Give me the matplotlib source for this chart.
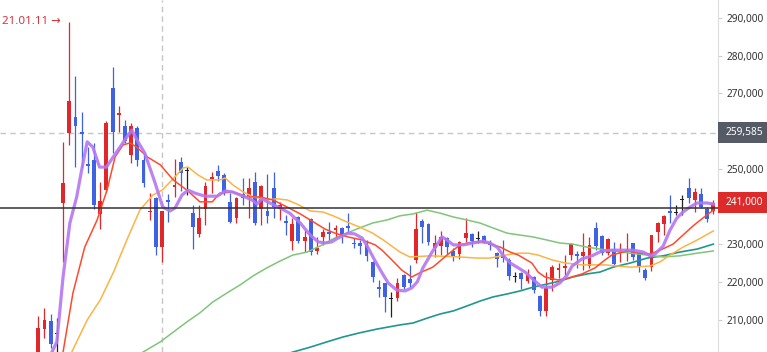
import matplotlib.pyplot as plt
import numpy as np
from matplotlib.patches import Rectangle
from matplotlib.transforms import blended_transform_factory

# daily candles (price in KRW), oldest first
opens = [200500, 207600, 209700, 206300, 241000, 259500, 263800, 259800, 251300, 252400,
         238100, 244400, 271500, 264300, 261400, 253700, 260900, 252400, 238600, 242300,
         229300, 241800, 245200, 251900, 249700, 238300, 232800, 239400, 247400, 249500,
         248400, 241300, 237000, 243400, 242800, 246600, 239400, 238900, 245000, 239400,
         236200, 230900, 237300, 230900, 236700, 228300, 232000, 233300, 233800, 234400,
         234900, 230400, 230400, 229900, 225400, 218700, 219800, 215800, 215800, 221900,
         220900, 225900, 236200, 235400, 229100, 229600, 231700, 228300, 227500, 231700,
         232800, 231700, 232300, 230400, 227700, 227000, 225900, 221600, 222400, 220300,
         221400, 216400, 212400, 220600, 223200, 223800, 227200, 227500, 227000, 224300,
         234400, 232300, 227700, 228800, 227700, 228000, 230400, 227700, 223200, 224000,
         233300, 235400, 238900, 238600, 241800, 245000, 241800, 243400, 239400, 238900]
highs = [211100, 213200, 211600, 210500, 257200, 288900, 274600, 265100, 255800, 256900,
         246600, 262700, 277000, 266700, 263000, 262200, 261400, 254200, 243600, 242600,
         238900, 243400, 252600, 253200, 250500, 240500, 240500, 246600, 249200, 251100,
         248900, 243600, 242600, 247600, 247600, 249200, 245800, 248700, 249200, 241300,
         237800, 237000, 237600, 233800, 237000, 232000, 234100, 236000, 235200, 234600,
         238300, 231700, 231200, 231200, 225600, 220600, 219800, 217400, 221100, 222200,
         224600, 238600, 236700, 235700, 232500, 233600, 232000, 229100, 230900, 237000,
         233000, 233600, 232500, 231200, 228000, 231200, 226400, 222700, 222700, 223500,
         221600, 216600, 222700, 224600, 225100, 227200, 230400, 228300, 233000, 232000,
         236000, 232500, 231700, 230700, 230400, 233000, 230400, 227700, 223800, 232500,
         236000, 237800, 243100, 240500, 243100, 247600, 245000, 245000, 239900, 241800]
lows = [198900, 205200, 202600, 200800, 225400, 256400, 250500, 250300, 248900, 239400,
        234100, 243900, 254200, 259800, 256900, 251600, 250800, 245200, 236500, 227200,
        225400, 236000, 242600, 244200, 243100, 228800, 232000, 235200, 243600, 246800,
        243100, 235700, 235700, 240500, 237000, 235200, 235200, 235700, 237000, 236500,
        232500, 228500, 230400, 228000, 227200, 227500, 229900, 230700, 232000, 230400,
        233300, 229100, 227500, 225600, 220100, 216100, 212100, 210800, 215000, 218200,
        218700, 225100, 230400, 229900, 226700, 227200, 227500, 225600, 226200, 230700,
        229300, 230400, 230400, 228500, 224000, 225400, 220600, 220100, 218200, 219800,
        217100, 211100, 211100, 217700, 221100, 221900, 225900, 223800, 223200, 223800,
        228500, 227200, 227200, 224300, 225400, 225600, 225900, 222700, 220600, 223000,
        230700, 232500, 235700, 237800, 237800, 241000, 238600, 239700, 236000, 238100]
closes = [207900, 210000, 203600, 206300, 246300, 268000, 261400, 259300, 250800, 240500,
          241500, 262200, 259800, 264800, 257400, 261400, 252400, 246300, 238900, 229300,
          238900, 241300, 245800, 248900, 249700, 234600, 237000, 245500, 247900, 248100,
          243900, 236000, 242300, 242300, 245000, 235700, 245500, 237600, 239900, 240500,
          235700, 235400, 230900, 232000, 228000, 229100, 233300, 232800, 234400, 232300,
          234400, 230100, 229600, 227000, 221400, 218200, 216100, 215800, 219800, 218700,
          219800, 234100, 234600, 230700, 230400, 232000, 229300, 226700, 230700, 233000,
          230900, 231700, 230700, 229900, 226200, 226400, 221600, 221600, 220900, 221900,
          217900, 212400, 218500, 224000, 223800, 224300, 230100, 227000, 228000, 229900,
          229600, 227700, 231500, 224800, 228000, 228500, 226700, 224000, 221100, 232500,
          235700, 237600, 238300, 238600, 241800, 242300, 243900, 239900, 236700, 241000]

# moving averages (candle position, price)
ma5_x = [1.0, 2.2, 3.0, 4.0, 5.1, 6.2, 7.0, 7.9, 8.8, 9.9, 11.0, 12.1, 13.2, 14.3, 15.1, 16.1,
         17.2, 18.8, 20.1, 21.3, 22.1, 23.2, 24.2, 25.3, 26.9, 28.9, 30.2, 31.4, 33.1, 34.5,
         35.3, 36.1, 37.4, 39.0, 40.6, 42.3, 43.9, 45.2, 46.3, 47.4, 48.4, 50.0, 51.1, 52.3,
         53.2, 54.4, 55.5, 56.5, 57.9, 59.2, 60.3, 61.2, 62.1, 63.7, 65.2, 66.0, 67.0, 68.6,
         70.2, 71.8, 72.9, 74.1, 75.0, 76.2, 77.0, 78.6, 80.2, 81.3, 83.0, 84.2, 85.4, 86.2,
         87.8, 89.4, 91.0, 92.6, 94.4, 96.0, 97.7, 98.8, 99.6, 100.9, 102.0, 103.1, 104.1,
         105.2, 106.4, 108.0, 109.0]
ma5 = [197600, 201500, 204200, 221400, 235700, 242600, 249700, 257200, 255800, 250500,
       250500, 253200, 255800, 258500, 260300, 257200, 254200, 246600, 239900, 238900,
       239700, 243100, 244400, 243600, 242800, 242800, 244200, 243900, 242800, 241800,
       240700, 242100, 241000, 239700, 238300, 235700, 232500, 230700, 230400, 230700,
       231700, 233000, 232800, 231700, 229300, 225600, 222500, 219800, 217900, 217700,
       218500, 220100, 223800, 228300, 232000, 231200, 229900, 229900, 230400, 230900,
       230400, 229300, 227200, 225100, 224300, 222700, 220300, 218700, 218700, 219800,
       221900, 224300, 226200, 227000, 228300, 228500, 228500, 228500, 228000, 227000,
       227500, 229600, 233800, 237000, 238600, 239900, 241000, 241000, 240700]

ma10_x = [3.0, 4.0, 5.6, 7.5, 9.5, 11.1, 12.4, 13.7, 14.8, 15.9, 17.6, 19.7, 21.8, 24.0,
          26.1, 28.1, 29.3, 31.4, 33.7, 35.8, 37.9, 40.2, 42.3, 44.7, 46.3, 47.9, 50.0, 52.3,
          54.4, 55.5, 57.1, 58.7, 60.3, 61.6, 63.7, 66.0, 68.1, 70.2, 72.5, 74.6, 76.2, 77.5,
          79.7, 80.7, 81.8, 83.9, 85.5, 87.8, 89.9, 91.5, 92.6, 95.1, 97.2, 98.8, 100.4,
          102.5, 104.1, 105.7, 107.3, 109.0]
ma10 = [192300, 201500, 217200, 229300, 236500, 244400, 253200, 256400, 256900, 255800,
        253200, 251100, 247100, 244400, 241300, 241300, 243600, 243900, 242600, 242600,
        241800, 239900, 238100, 235700, 234100, 233000, 232000, 231200, 229900, 228500,
        225900, 223200, 221400, 222500, 224000, 227200, 229900, 230700, 230400, 229300,
        228000, 227200, 225100, 222700, 221400, 220600, 221100, 222200, 223800, 225900,
        227200, 228300, 227700, 227500, 228500, 230100, 232500, 234900, 237000, 239100]

ma20_x = [4.0, 5.4, 7.9, 10.0, 12.1, 14.3, 16.4, 18.5, 20.0, 21.6, 23.4, 24.2, 25.8, 27.2,
          29.3, 30.2, 31.4, 33.1, 34.7, 36.9, 38.5, 40.2, 41.8, 43.9, 46.0, 47.6, 49.8, 51.9,
          54.0, 55.7, 57.3, 58.4, 60.0, 63.3, 68.1, 70.8, 72.9, 75.4, 77.5, 79.1, 80.7, 83.0,
          85.1, 87.8, 91.5, 95.6, 98.8, 100.4, 102.0, 104.1, 106.4, 109.0]
ma20 = [196200, 201500, 210000, 215300, 222500, 231200, 239100, 243100, 244400, 247100,
        250300, 250500, 248400, 247100, 247100, 247600, 245800, 243900, 242600, 241800,
        242100, 241800, 240700, 238900, 238600, 237600, 236000, 234600, 233000, 231200,
        229300, 228000, 226700, 227000, 226700, 226400, 226400, 227200, 227700, 227700,
        227200, 225900, 225100, 224600, 224600, 224000, 224300, 225400, 227200, 229300,
        231200, 233600]

ma60_x = [10.0, 16.9, 19.7, 21.8, 24.0, 26.1, 28.2, 30.5, 32.6, 34.7, 36.9, 39.0, 41.1, 43.4,
          45.5, 47.6, 49.8, 51.9, 54.0, 56.3, 58.4, 60.5, 62.8, 64.9, 67.0, 69.2, 71.3, 73.4,
          75.7, 77.8, 79.9, 82.1, 84.2, 86.3, 88.6, 90.7, 92.8, 95.6, 98.3, 100.9, 103.6,
          106.4, 109.0]
ma60 = [194900, 201500, 204200, 206800, 209500, 211900, 214800, 217200, 219300, 221700,
        223800, 225600, 227200, 228000, 229600, 231500, 233000, 234400, 235700, 236500,
        237600, 238100, 239100, 238300, 237300, 236500, 235700, 234400, 233000, 232500,
        232000, 231200, 230400, 230100, 229300, 228800, 228300, 227700, 227200, 226700,
        227000, 227700, 228300]

ma120_x = [35.8, 41.1, 43.9, 46.6, 49.2, 51.9, 54.7, 58.4, 60.5, 62.8, 64.9, 67.0, 69.2, 71.3,
           73.4, 75.7, 77.8, 79.9, 82.1, 84.2, 86.3, 88.6, 90.7, 92.8, 95.6, 98.3, 100.9,
           103.6, 106.4, 109.0]
ma120 = [198900, 201500, 202800, 204200, 205500, 206600, 207600, 208700, 209200, 210500,
         211600, 212400, 213700, 215000, 216100, 216900, 217700, 218700, 219500, 220300,
         221400, 222200, 222700, 224000, 225100, 226400, 227000, 228000, 228800, 230100]

# 240,000 and 260,000 sit under the price tags, so they are not shown
yticks = [210000, 220000, 230000, 250000, 270000, 280000, 290000]
cross_price = 259585
last_price = 241000
hline_price = 239550
cross_idx = 20
date_label = '21.01.11'

RED = '#e0272b'
BLUE = '#3f62e2'
DOJI = '#222222'

fig = plt.figure(figsize=(7.67, 3.52), dpi=100)
ax = fig.add_axes([0, 0, 718 / 767, 1])

o = np.array(opens)
h = np.array(highs)
l = np.array(lows)
c = np.array(closes)
x = np.arange(len(o))
cols = np.where(c > o, RED, np.where(c < o, BLUE, DOJI))

ax.vlines(x, l, h, colors=cols, linewidth=0.9, zorder=2)
body_h = np.maximum(np.abs(c - o), 280)
body_b = np.where(c == o, o - 140, np.minimum(o, c))
ax.bar(x, body_h, bottom=body_b, width=0.62, color=cols, linewidth=0, zorder=3)

ax.plot(ma120_x, ma120, color='#1f978d', lw=1.2, zorder=4)
ax.plot(ma60_x, ma60, color='#80c57a', lw=1.1, zorder=4)
ax.plot(ma20_x, ma20, color='#fbb445', lw=1.1, zorder=4)
ax.plot(ma10_x, ma10, color='#ff4a2c', lw=1.1, zorder=4)
ax.plot(ma5_x, ma5, color='#b577f2', lw=2.3, alpha=0.9, zorder=5)

# crosshair + price lines
ax.axvline(cross_idx, color='#c6c6c6', lw=1, ls=(0, (4, 3)), zorder=1)
ax.axhline(cross_price, color='#c6c6c6', lw=1, ls=(0, (4, 3)), zorder=1)
ax.axhline(hline_price, color='#333333', lw=1.1, zorder=6)

ax.set_xlim(-6.18, 109.75)
ax.set_ylim(201523, 294768)
ax.set_xticks([])
ax.yaxis.tick_right()
ax.set_yticks(yticks)
ax.set_yticklabels([f'{v:,}' for v in yticks])
ax.tick_params(axis='y', length=3, color='#cccccc', labelcolor='#333333', labelsize=7.3, pad=3)
for lab in ax.get_yticklabels():
    lab.set_family('Noto Sans')
for s in ['top', 'left', 'bottom']:
    ax.spines[s].set_visible(False)
ax.spines['right'].set_color('#dddddd')

# price tags on the axis
tr = blended_transform_factory(fig.transFigure, ax.transData)
px = 264.9  # price per pixel
for price, face in [(cross_price, '#555b66'), (last_price, '#dd2a2a')]:
    fig.add_artist(Rectangle((718 / 767, price - 10.5 * px), 49 / 767, 21 * px,
                             transform=tr, facecolor=face, edgecolor='none', clip_on=False))
    fig.text(726 / 767, price, f'{price:,}', transform=tr, color='white', fontsize=7.3,
             family='Noto Sans', va='center', ha='left')

fig.text(2 / 767, 1 - 21 / 352, date_label + ' \u2192', color='#d8353d', fontsize=8.3,
         family=['Noto Sans', 'DejaVu Sans'], va='center', ha='left')

fig.savefig('out.png', dpi=100)
